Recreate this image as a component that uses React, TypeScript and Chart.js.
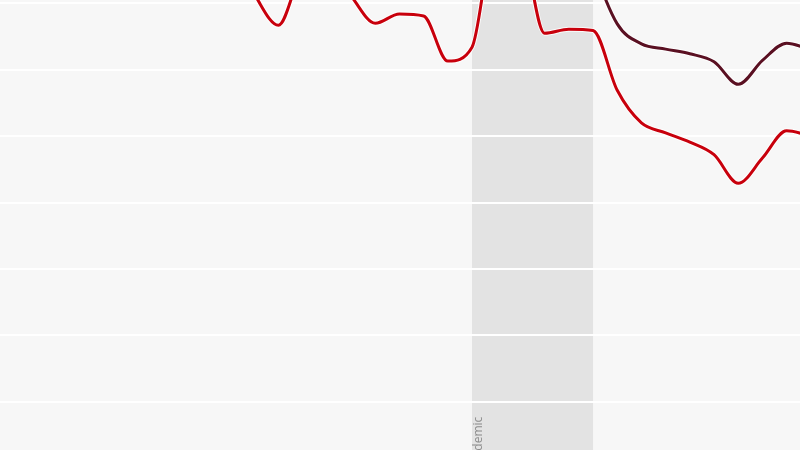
import { useEffect, useRef } from 'react';
import Chart from 'chart.js/auto';

// quarters, as decimal years
const redPeriods = [
  2017.5, 2017.75, 2018.0, 2018.25, 2018.5, 2018.75, 2019.0, 2019.25, 2019.5, 2019.75,
  2020.0, 2020.25, 2020.5, 2020.75, 2021.0, 2021.25, 2021.5, 2021.75, 2022.0, 2022.25,
  2022.5, 2022.75, 2023.0, 2023.25, 2023.5,
];
const redValues = [
  68.0, 61.4, 56.7, 64.7, 65.7, 61.1, 57.0, 58.4, 58.1, 51.3,
  53.4, 71.0, 69.5, 55.5, 56.1, 55.9, 46.9, 42.0, 40.5, 39.1,
  37.2, 32.9, 36.7, 40.8, 40.0,
];

const darkPeriods = [2021.0, 2021.25, 2021.5, 2021.75, 2022.0, 2022.25, 2022.5, 2022.75, 2023.0, 2023.25, 2023.5];
const darkValues = [78.6, 65.8, 56.9, 53.9, 53.1, 52.4, 51.2, 47.8, 51.4, 54.0, 53.0];

const pandemicStart = 2020.0;
const pandemicEnd = 2021.25;
const pandemicLabel = 'Pandemic';

const toPoints = (xs: number[], ys: number[]) => xs.map((x, i) => ({ x, y: ys[i] }));

const RED = '#c8000c';
const DARK = '#5a1022';

export default function App() {
  const chartRef = useRef<HTMLCanvasElement | null>(null);
  const chartInstance = useRef<Chart | null>(null);

  useEffect(() => {
    if (!chartRef.current) return;
    if (chartInstance.current) chartInstance.current.destroy();

    const backdrop = {
      id: 'backdrop',
      beforeDraw(chart: Chart) {
        const { ctx, width, height } = chart;
        const x = chart.scales.x;
        ctx.save();
        ctx.fillStyle = '#f7f7f7';
        ctx.fillRect(0, 0, width, height);
        const left = x.getPixelForValue(pandemicStart);
        const right = x.getPixelForValue(pandemicEnd);
        ctx.fillStyle = '#e3e3e3';
        ctx.fillRect(left, 0, right - left, height);
        // rotated label
        ctx.translate(left + 10, chart.scales.y.getPixelForValue(0) + 15);
        ctx.rotate(-Math.PI / 2);
        ctx.font = '12px "Open Sans", sans-serif';
        ctx.fillStyle = '#8c8c8c';
        ctx.textAlign = 'right';
        ctx.textBaseline = 'alphabetic';
        ctx.fillText(pandemicLabel, 0, 0);
        ctx.restore();
      },
    };

    const line = (data: { x: number; y: number }[], color: string, width: number, order: number) => ({
      data,
      borderColor: color,
      borderWidth: width,
      pointRadius: 0,
      cubicInterpolationMode: 'monotone' as const,
      fill: false,
      order,
    });

    const red = toPoints(redPeriods, redValues);
    const dark = toPoints(darkPeriods, darkValues);

    chartInstance.current = new Chart(chartRef.current, {
      type: 'line',
      data: {
        datasets: [
          line(dark, DARK, 3, 1),
          line(red, RED, 3, 1),
          line(dark, 'rgba(255,255,255,0.85)', 5, 2),
          line(red, 'rgba(255,255,255,0.85)', 5, 2),
        ],
      },
      options: {
        animation: false,
        responsive: true,
        maintainAspectRatio: false,
        layout: { padding: 0 },
        plugins: {
          legend: { display: false },
          tooltip: { enabled: false },
        },
        scales: {
          x: {
            type: 'linear',
            min: 2015.124,
            max: 2023.388,
            display: false,
          },
          y: {
            min: -7.27,
            max: 60.5,
            border: { display: false },
            ticks: { display: false, stepSize: 10, includeBounds: false },
            grid: { color: '#ffffff', lineWidth: 2, drawTicks: false },
          },
        },
      },
      plugins: [backdrop],
    });

    return () => {
      if (chartInstance.current) {
        chartInstance.current.destroy();
        chartInstance.current = null;
      }
    };
  }, []);

  return (
    <div style={{ position: 'fixed', left: 0, top: 0, width: 800, height: 450 }}>
      <canvas ref={chartRef} />
    </div>
  );
}
